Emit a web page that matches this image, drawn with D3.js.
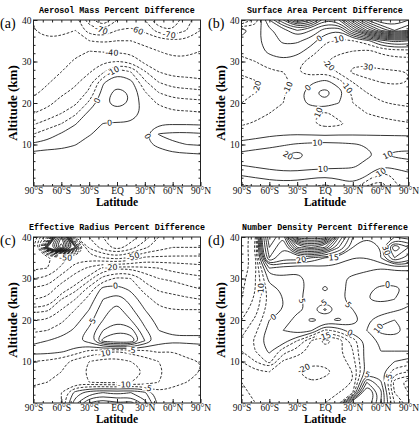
<!DOCTYPE html>
<html>
<head>
<meta charset="utf-8">
<script src="https://cdn.jsdelivr.net/npm/d3@7"></script>
<style>
  body { margin: 0; background: #fff; }
</style>
</head>
<body>
<div id="chart"></div>
<script>
// grid columns (latitude) and rows (altitude, top row first)
var lats = [-90, -75, -60, -45, -30, -15, 0, 15, 30, 45, 60, 75, 90];
var alts = [40, 37.5, 35, 32.5, 30, 27.5, 25, 22.5, 20, 17.5, 15, 12.5, 10, 7.5, 5, 2.5, 0];

var latTickValues = [-90, -60, -30, 0, 30, 60, 90];
var latTickLabels = ["90°S", "60°S", "30°S", "EQ", "30°N", "60°N", "90°N"];
var altTickValues = [10, 20, 30, 40];

// (a) aerosol mass percent difference
var massDiff = [
  [-50, -55, -55, -55, -75, -90, -70, -65, -70, -90, -85, -75, -62],
  [-50, -52, -52, -50, -65, -70, -60, -58, -62, -75, -80, -70, -60],
  [-48, -49, -48, -46, -50, -52, -50, -50, -52, -55, -58, -58, -55],
  [-44, -46, -45, -42, -40, -41, -42, -43, -48, -50, -52, -52, -50],
  [-43, -45, -43, -39, -36, -31, -30, -32, -43, -45, -48, -48, -47],
  [-44, -44, -40, -36, -31, -22, -2, -10, -29, -40, -44, -44, -44],
  [-44, -41, -36, -32, -24, -1, 6, 3, -18, -30, -35, -36, -38],
  [-42, -37, -32, -27, -18, 4, 14, 9, -9, -20, -25, -26, -27],
  [-36, -33, -26, -22, -8, 8, 14, 9, -6, -11, -15, -16, -17],
  [-30, -26, -20, -12, 3, 6, 6, 5, -3, -6, -8, -8, -9],
  [-21, -16, -10, -0.5, 5, -0.3, -1, -1, -0.5, -1, -1, -1, -1.5],
  [-10, -4, 1, 4, 1, -4, -4, -3, -1.5, 10.5, 12, 12, 11],
  [2, 3, 3, 0.5, -5, -7, -6, -5, -3, 3, 9, 10, 11],
  [-1, -3, -4, -6, -8, -8, -7, -6, -5, -6, -3, -2, -1],
  [-4, -5, -6, -7, -8, -7, -6, -6, -6, -6, -6, -6, -5],
  [-4, -5, -6, -7, -7, -6, -5, -5, -5, -6, -6, -6, -6],
  [-3, -4, -5, -6, -6, -5, -4, -4, -4, -5, -5, -5, -5]
];
var massLevels = [-90, -80, -70, -60, -50, -40, -30, -20, -10, 0, 10, 20];

// (b) surface area percent difference
var areaDiff = [
  [-35, -15, 20, 50, 90, 70, 30, 40, 90, 130, 150, 150, 140],
  [5, -5, 8, 15, 30, 20, 5, 0, 40, 80, 110, 130, 120],
  [-5, -3, 5, 12, 12, 5, -8, -12, -10, -5, 15, 25, 20],
  [-8, -4, 2, 6, 4, -5, -15, -18, -20, -22, -18, -15, -14],
  [-12, -10, -4, -2, -6, -14, -20, -25, -28, -27, -25, -24, -24],
  [-19, -16, -12, -10, -10, -15, -12, -22, -32, -33, -32, -31, -30],
  [-22, -21, -16, -12, -8, -2, 4, -5, -20, -28, -30, -31, -30],
  [-23, -20, -16, -11, -5, 8, 14, 5, -12, -20, -24, -27, -27],
  [-20, -17, -14, -10, -4, 3, 8, 0, -10, -15, -19, -21, -22],
  [-15, -13, -10, -7, -3, -8, -12, -6, -6, -10, -12, -14, -16],
  [-11, -9, -6, -4, -4, -9, -14, -12, -7, -6, -7, -8, -9],
  [-5, -4, -2, -1, -0.5, -1, -2, -1, -1, -1, -1, -1, -1],
  [3, 5, 7, 9, 11, 12, 13, 12, 11, 9, 7, 6, 5],
  [13, 15, 16, 18, 25, 16, 15, 14, 13, 12, 8, 12, 13],
  [10, 12, 14, 16, 16, 15, 14, 13, 12, 7, 2, 4, 6],
  [0, 2, 4, 5, 5, 3, 2, 3, 5, 0, -15, -8, -3],
  [-12, -8, -6, -5, -6, -8, -12, -6, -2, -20, -25, -12, -5]
];
var areaLevels = [-30, -20, -10, 0, 10, 20, 30, 40, 50, 60, 70, 80, 90, 100, 110, 120, 130, 140];

// (c) effective radius percent difference
var radiusDiff = [
  [-80, -40, 60, -60, -70, -80, -90, -85, -75, -60, -55, -55, -55],
  [-70, 20, 80, 10, -62, -75, -85, -75, -62, -55, -50, -50, -50],
  [-65, -62, -55, -45, -45, -50, -55, -48, -38, -38, -38, -38, -38],
  [-62, -60, -48, -35, -28, -18, -16, -16, -18, -20, -22, -24, -26],
  [-50, -48, -35, -25, -17, -8, -4, -5, -12, -15, -16, -17, -18],
  [-38, -36, -24, -17, -8, 2, 2, -1, -7, -11, -12, -14, -15],
  [-30, -28, -15, -10, -3, 5, 8, 3, -3, -7, -8, -9, -10],
  [-17, -16, -10, -5, 0, 8, 12, 6, 0, -4, -5, -5, -5],
  [-10, -10, -6, -2, 3, 10, 14, 10, 3, -2, -3, -3, -3],
  [-6, -5, -3, 1, 6, 15, 19, 17, 6, 0, -1, -1, -1],
  [-1, 0, 2, 4, 7, 22, 25, 25, 10, 2, 1, 1, 1],
  [2, 2, 1, -2, -6, -8, -10, -8, -6, -4, -5, -3, -2],
  [-5, -6, -8, -12, -15, -17, -17, -15, -13, -10, -7, -6, -5],
  [-7, -8, -10, -13, -16, -18, -18, -17, -15, -11, -8, -6, -5],
  [-9, -10, -11, -13, -15, -16, -16, -15, -14, -10, -6, -5, -4],
  [-12, -11, -10, 2, 8, 10, 8, 10, 6, -4, -4, -3, -3],
  [-14, -12, -10, 8, 20, 25, 20, 22, 12, -2, -3, -2, -2]
];
var radiusLevels = [-80, -70, -60, -50, -40, -30, -20, -15, -10, -5, 0, 5, 10, 15, 20, 30, 40, 50, 60, 70];

// (d) number density percent difference
var densityDiff = [
  [-25, -15, 60, 40, 150, 150, 150, 60, 20, 15, 15, 20, 15],
  [-25, -14, 50, 30, 80, 90, 80, 40, 15, 12, 15, 60, 40],
  [-25, -15, 40, 22, 25, 20, 15, 13, 10, 10, 15, 40, 25],
  [-24, -16, 10, 8, 6, 7, 9, 8, 7, 6, 5, 6, 6],
  [-22, -15, 2, 4, 4, 6, 8, 6, 4, 3, 2, 2, 2],
  [-21, -15, -2, 1, 3, 7, 11, 7, 3, 1, -1, -1, 1],
  [-20, -14, -3, 0, 4, 7, 7, 6, 3, 0, -1, 0, 3],
  [-18, -12, -2, 0, 4, 6, -1, 7, 5, 3, 2, 4, 6],
  [-15, -9, 0, 2, 7, 11, 9, 11, 6, 4, 8, 10, 7],
  [-12, -6, 2, 5, 9, 6, -6, -3, 4, 5, 12, 13, 8],
  [-9, -4, 4, 3, -5, -15, -22, -18, -8, 2, 6, 7, 6],
  [-10, -5, 1, -8, -12, -17, -18, -16, -10, 3, 5, 5, 5],
  [-15, -10, -3, -16, -18, -19, -19, -18, -12, 3, 4, 0, -2],
  [-19, -16, -15, -18, -20, -22, -21, -19, -15, 2, 2, -8, -10],
  [-20, -18, -17, -18, -19, -20, -19, -17, -15, 15, 6, -18, -22],
  [-21, -19, -18, -17, -18, -18, -17, -15, -10, 30, 12, -15, -20],
  [-22, -20, -19, -18, -18, -17, -15, -12, 30, 25, 10, -10, -18]
];
var densityLevels = [-20, -15, -10, -5, 0, 5, 10, 15, 20, 30, 40, 50, 60, 70, 80, 90, 100, 110, 120, 130, 140];

var totalWidth = 419, totalHeight = 426,
    pw = 167, ph = 166;

var panels = [
  {tag: "(a)", title: "Aerosol Mass Percent Difference", grid: massDiff, levels: massLevels,
   left: 33.5, top: 20, labelMin: -80, labelMax: 20},
  {tag: "(b)", title: "Surface Area Percent Difference", grid: areaDiff, levels: areaLevels,
   left: 241.5, top: 20, labelMin: -30, labelMax: 30},
  {tag: "(c)", title: "Effective Radius Percent Difference", grid: radiusDiff, levels: radiusLevels,
   left: 33.5, top: 237, labelMin: -80, labelMax: 20},
  {tag: "(d)", title: "Number Density Percent Difference", grid: densityDiff, levels: densityLevels,
   left: 241.5, top: 237, labelMin: -20, labelMax: 30}
];

var nx = lats.length, ny = alts.length,
    latStep = lats[1] - lats[0],
    altStep = alts[0] - alts[1];

var x = d3.scaleLinear().domain([-90, 90]).range([0, pw]);
var y = d3.scaleLinear().domain([0, 40]).range([ph, 0]);

// contour grid coords -> pixel
function toPx(p) {
  return [x(lats[0] + (p[0] - 0.5) * latStep), y(alts[0] - (p[1] - 0.5) * altStep)];
}

function onEdge(p) {
  return p[0] <= 0 || p[0] >= nx || p[1] <= 0 || p[1] >= ny;
}

// cut the grid-border runs out of a contour ring, keep the isolines
function splitRing(ring) {
  var pts = ring.slice();
  var f = pts[0], l = pts[pts.length - 1];
  if (f[0] === l[0] && f[1] === l[1]) pts.pop();
  var k = pts.findIndex(onEdge);
  if (k < 0) return [{closed: true, pts: pts}];
  var rot = pts.slice(k).concat(pts.slice(0, k));
  var out = [], cur = [];
  rot.forEach(function(p) {
    if (onEdge(p)) {
      if (cur.length > 1) out.push({closed: false, pts: cur});
      cur = [];
    } else cur.push(p);
  });
  if (cur.length > 1) out.push({closed: false, pts: cur});
  return out;
}

var openLine = d3.line().curve(d3.curveBasis);
var closedLine = d3.line().curve(d3.curveBasisClosed);

var svg = d3.select("#chart")
    .append("svg")
    .attr("width", totalWidth)
    .attr("height", totalHeight)
    .style("font-family", "'Liberation Serif', serif");

panels.forEach(function(p, pi) {
  var g = svg.append("g")
      .attr("transform", "translate(" + p.left + "," + p.top + ")");

  g.append("clipPath").attr("id", "clip" + pi)
    .append("rect").attr("width", pw).attr("height", ph);

  var lineGroup = g.append("g").attr("clip-path", "url(#clip" + pi + ")");
  var labelGroup = g.append("g");

  var contours = d3.contours()
      .size([nx, ny])
      .thresholds(p.levels)(p.grid.flat());

  var pieces = [];
  contours.forEach(function(c) {
    c.coordinates.forEach(function(poly) {
      poly.forEach(function(ring) {
        splitRing(ring).forEach(function(s) {
          s.value = c.value;
          s.px = s.pts.map(toPx);
          pieces.push(s);
        });
      });
    });
  });

  lineGroup.selectAll("path")
    .data(pieces)
    .enter()
    .append("path")
    .attr("d", d => d.closed ? closedLine(d.px) : openLine(d.px))
    .attr("fill", "none")
    .attr("stroke", "#111")
    .attr("stroke-width", 0.85)
    .attr("stroke-dasharray", d => d.value < 0 ? "2.6,1.6" : null);

  // contour labels, longest lines first
  pieces.forEach(function(s) {
    var pts = s.closed ? s.px.concat([s.px[0]]) : s.px;
    var cum = [0];
    for (var i = 1; i < pts.length; i++) {
      cum.push(cum[i - 1] + Math.hypot(pts[i][0] - pts[i - 1][0], pts[i][1] - pts[i - 1][1]));
    }
    s.len = cum[cum.length - 1];
    s.cum = cum;
    s.lpts = pts;
  });
  var placed = [];
  pieces.slice().sort((a, b) => b.len - a.len).forEach(function(s) {
    if (s.value < p.labelMin || s.value > p.labelMax) return;
    if (s.len < 30) return;
    var fracs = s.len > 220 ? [0.3, 0.72] : [0.5];
    fracs.forEach(function(fr) {
      var target = s.len * fr, cum = s.cum, pts = s.lpts, i = 1;
      while (i < cum.length - 1 && cum[i] < target) i++;
      var t = (target - cum[i - 1]) / ((cum[i] - cum[i - 1]) || 1);
      var a = pts[i - 1], b = pts[i];
      var pt = [a[0] + (b[0] - a[0]) * t, a[1] + (b[1] - a[1]) * t];
      if (pt[0] < 9 || pt[0] > pw - 9 || pt[1] < 6 || pt[1] > ph - 6) return;
      if (placed.some(q => Math.hypot(q[0] - pt[0], q[1] - pt[1]) < 18)) return;
      placed.push(pt);
      var ang = Math.atan2(b[1] - a[1], b[0] - a[0]) * 180 / Math.PI;
      if (ang > 90) ang -= 180;
      if (ang < -90) ang += 180;
      var txt = String(s.value);
      var w = txt.length * 4.8 + 1;
      var lg = labelGroup.append("g")
          .attr("transform", "translate(" + pt[0] + "," + pt[1] + ")rotate(" + ang + ")");
      lg.append("rect")
        .attr("x", -w / 2).attr("y", -3.5)
        .attr("width", w).attr("height", 7)
        .attr("fill", "#fff");
      lg.append("text")
        .text(txt)
        .attr("text-anchor", "middle")
        .attr("dy", "0.36em")
        .style("font-family", "'DejaVu Sans', sans-serif")
        .style("font-size", "8px")
        .style("fill", "#111");
    });
  });

  // frame
  g.append("rect")
    .attr("width", pw).attr("height", ph)
    .attr("fill", "none").attr("stroke", "#222").attr("stroke-width", 1);

  // axes, ticks pointing in
  g.append("g").attr("class", "labelled").attr("transform", "translate(0," + ph + ")")
    .call(d3.axisBottom(x).tickValues(latTickValues)
      .tickFormat((d, i) => latTickLabels[i]).tickSizeInner(-4).tickSizeOuter(0).tickPadding(1));
  g.append("g").attr("class", "minor").attr("transform", "translate(0," + ph + ")")
    .call(d3.axisBottom(x).tickValues(d3.range(-80, 90, 10)).tickSizeInner(-2).tickSizeOuter(0));
  g.append("g").attr("class", "minor")
    .call(d3.axisTop(x).tickValues(d3.range(-80, 90, 10)).tickSizeInner(-2.5).tickSizeOuter(0));
  g.append("g").attr("class", "labelled")
    .call(d3.axisLeft(y).tickValues(altTickValues).tickSizeInner(-4).tickSizeOuter(0).tickPadding(2));
  g.append("g").attr("class", "minor")
    .call(d3.axisLeft(y).tickValues(d3.range(2, 40, 2)).tickSizeInner(-2).tickSizeOuter(0));
  g.append("g").attr("class", "minor").attr("transform", "translate(" + pw + ",0)")
    .call(d3.axisRight(y).tickValues(d3.range(2, 40, 2)).tickSizeInner(-2).tickSizeOuter(0));

  g.selectAll(".minor .tick text").remove();
  g.selectAll(".domain").remove();
  g.selectAll(".tick line").attr("stroke", "#222");
  g.selectAll(".labelled .tick text")
    .style("font-family", "'Liberation Serif', serif")
    .style("font-size", "9.5px")
    .style("fill", "#111");

  g.append("text")
    .attr("x", pw / 2).attr("y", ph + 20)
    .attr("text-anchor", "middle")
    .style("font-size", "11.5px").style("font-weight", "bold")
    .text("Latitude");

  g.append("text")
    .attr("transform", "translate(-16.5," + (ph / 2) + ")rotate(-90)")
    .attr("text-anchor", "middle")
    .style("font-size", "13px").style("font-weight", "bold")
    .text("Altitude (km)");

  g.append("text")
    .attr("x", pw / 2).attr("y", -7)
    .attr("text-anchor", "middle")
    .style("font-family", "'Liberation Mono', monospace")
    .style("font-size", "8.4px").style("font-weight", "bold")
    .text(p.title);

  g.append("text")
    .attr("x", -33.5).attr("y", 7.5)
    .style("font-size", "14px")
    .text(p.tag);
});
</script>
</body>
</html>
